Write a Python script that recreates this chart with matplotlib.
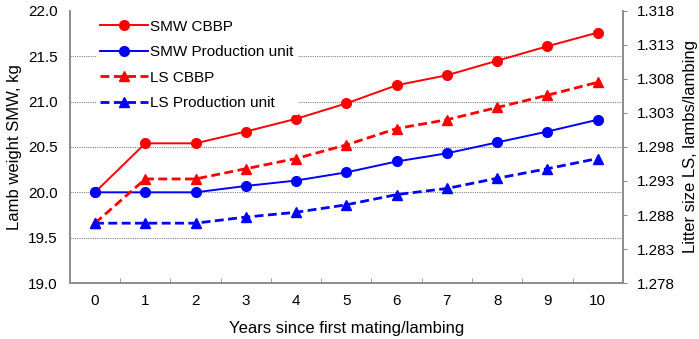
import numpy as np
import matplotlib
matplotlib.use('Agg')
import matplotlib.pyplot as plt
from matplotlib.ticker import FixedLocator

plt.rcParams['font.family'] = ['Liberation Sans', 'DejaVu Sans']

years = [0, 1, 2, 3, 4, 5, 6, 7, 8, 9, 10]
smw_cbbp = [20.00, 20.54, 20.54, 20.67, 20.81, 20.98, 21.18, 21.29, 21.45, 21.61, 21.76]
smw_prod = [20.00, 20.00, 20.00, 20.07, 20.13, 20.22, 20.34, 20.43, 20.55, 20.67, 20.80]
ls_cbbp = [1.2868, 1.2933, 1.2933, 1.2948, 1.2963, 1.2983, 1.3007, 1.3020, 1.3038, 1.3056, 1.3075]
ls_prod = [1.2868, 1.2868, 1.2868, 1.2877, 1.2884, 1.2895, 1.2910, 1.2919, 1.2934, 1.2948, 1.2963]

left_ticks = [19.0, 19.5, 20.0, 20.5, 21.0, 21.5, 22.0]
right_ticks = [1.278, 1.283, 1.288, 1.293, 1.298, 1.303, 1.308, 1.313, 1.318]

fig = plt.figure(figsize=(6.99, 3.39), dpi=100)
ax = fig.add_axes([0.100, 0.165, 0.791, 0.803])
ax2 = ax.twinx()

gray = '#8c8c8c'
fs = 11

l1, = ax.plot(years, smw_cbbp, color='#ff0000', lw=1.4, marker='o', ms=7, label='SMW CBBP')
l2, = ax.plot(years, smw_prod, color='#0000ff', lw=1.4, marker='o', ms=7, label='SMW Production unit')
l3, = ax2.plot(years, ls_cbbp, color='#ff0000', lw=2.0, ls=(0, (3.2, 1.6)), marker='^', ms=7, label='LS CBBP')
l4, = ax2.plot(years, ls_prod, color='#0000ff', lw=2.0, ls=(0, (3.2, 1.6)), marker='^', ms=7, label='LS Production unit')

ax.set_xlim(-0.5, 10.5)
ax.set_ylim(19.0, 22.0)
ax2.set_ylim(1.278, 1.318)

ax.set_yticks(left_ticks)
ax.set_yticklabels(['%.1f' % t for t in left_ticks], fontsize=fs)
ax2.set_yticks(right_ticks)
ax2.set_yticklabels(['%.3f' % t for t in right_ticks], fontsize=fs)

ax.set_xticks(years)
ax.set_xticklabels([str(y) for y in years], fontsize=fs)
ax.xaxis.set_minor_locator(FixedLocator(np.arange(-0.5, 11, 1)))
ax.tick_params(axis='x', which='major', length=0, pad=8)
ax.tick_params(axis='x', which='minor', direction='in', length=3.5, color=gray)
ax.tick_params(axis='y', length=0, pad=9)
ax2.tick_params(axis='y', length=3, color=gray, pad=7)

for a in (ax, ax2):
    a.spines['top'].set_visible(False)
    for s in ('left', 'right', 'bottom'):
        a.spines[s].set_color(gray)
        a.spines[s].set_linewidth(1.2)

for t in left_ticks[1:-1]:
    ax.axhline(t, color='#808080', lw=0.8, ls=(0, (1, 1)), zorder=0)

ax.set_xlabel('Years since first mating/lambing', fontsize=12, labelpad=9)
ax.set_ylabel('Lamb weight SMW, kg', fontsize=12, labelpad=4)
ax2.set_ylabel('Litter size LS, lambs/lambing', fontsize=12, labelpad=6)

leg = ax2.legend(handles=[l1, l2, l3, l4], loc='upper left', bbox_to_anchor=(0.033, 1.012),
                 fontsize=fs, frameon=True, fancybox=False, framealpha=1,
                 facecolor='white', edgecolor='none', handlelength=3.1,
                 handletextpad=0.15, labelspacing=0.75, borderpad=0.3)

plt.savefig('out.png', dpi=100)
